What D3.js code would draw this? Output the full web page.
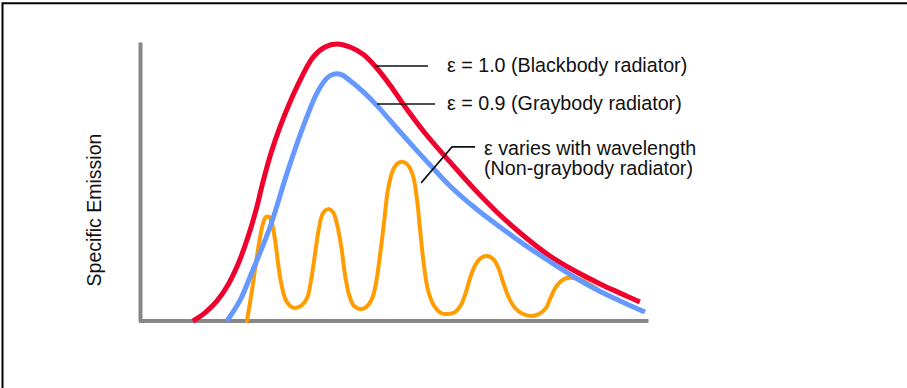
<!DOCTYPE html>
<html>
<head>
<meta charset="utf-8">
<script src="https://cdn.jsdelivr.net/npm/d3@7"></script>
<style>
  html, body { margin: 0; padding: 0; background: #fff; }
  svg { display: block; }
  text { font-family: "Liberation Sans", Arial, Helvetica, sans-serif; fill: #111; }
</style>
</head>
<body>
<svg id="chart" width="907" height="388"></svg>
<script>
// ---- data (wavelength in arbitrary units, emission normalised 0..1) ----
const blackbodyWavelength = [2.05, 2.52, 3.00, 3.43, 3.83, 4.22, 4.54, 4.81, 5.13, 5.48, 6.15, 6.79, 7.26, 7.73, 8.24, 8.76, 9.23, 9.82, 10.34, 11.20, 12.19, 13.18, 14.16, 15.15, 16.13, 17.12, 18.11, 18.90, 19.68];
const blackbodyEmission   = [0.000, 0.029, 0.072, 0.129, 0.204, 0.301, 0.398, 0.498, 0.602, 0.695, 0.839, 0.946, 0.982, 0.993, 0.982, 0.956, 0.914, 0.846, 0.778, 0.674, 0.570, 0.470, 0.380, 0.301, 0.233, 0.179, 0.133, 0.100, 0.068];

const graybodyWavelength = [3.39, 3.91, 4.30, 5.09, 5.76, 6.39, 6.94, 7.34, 7.61, 7.93, 8.24, 8.76, 9.31, 10.10, 10.81, 11.52, 12.19, 13.18, 14.16, 15.15, 16.13, 17.12, 18.11, 18.90, 19.88];
const graybodyEmission   = [0.000, 0.075, 0.158, 0.337, 0.530, 0.695, 0.817, 0.871, 0.885, 0.882, 0.862, 0.822, 0.772, 0.690, 0.618, 0.548, 0.484, 0.405, 0.337, 0.272, 0.213, 0.156, 0.106, 0.072, 0.032];

const nongrayWavelength = [4.18, 4.38, 4.54, 4.69, 4.81, 4.93, 5.05, 5.17, 5.29, 5.40,
  5.52, 5.68, 5.88, 6.07, 6.31, 6.55, 6.71, 6.86, 7.02, 7.18,
  7.38, 7.57, 7.73, 7.89, 8.05, 8.21, 8.40, 8.64, 8.88, 9.11,
  9.27, 9.43, 9.59, 9.74, 9.94, 10.14, 10.34, 10.53, 10.73, 10.89,
  11.01, 11.16, 11.32, 11.56, 11.83, 12.11, 12.39, 12.62, 12.82, 13.02,
  13.21, 13.41, 13.65, 13.89, 14.08, 14.28, 14.48, 14.75, 15.07, 15.38,
  15.70, 15.98, 16.17, 16.37, 16.57, 16.80, 17.08, 17.36, 17.67, 17.99];
const nongrayEmission = [0.000, 0.111, 0.211, 0.297, 0.348, 0.373, 0.373, 0.348, 0.290, 0.211,
  0.140, 0.082, 0.054, 0.047, 0.054, 0.082, 0.147, 0.237, 0.333, 0.387,
  0.401, 0.391, 0.348, 0.272, 0.165, 0.093, 0.054, 0.043, 0.050, 0.079,
  0.136, 0.237, 0.355, 0.470, 0.541, 0.566, 0.570, 0.559, 0.520, 0.434,
  0.326, 0.201, 0.111, 0.054, 0.029, 0.025, 0.032, 0.057, 0.104, 0.165,
  0.204, 0.226, 0.233, 0.222, 0.194, 0.140, 0.090, 0.047, 0.025, 0.018,
  0.025, 0.047, 0.086, 0.122, 0.143, 0.154, 0.154, 0.147, 0.133, 0.115];

const seriesLabels = ["ε = 1.0 (Blackbody radiator)", "ε = 0.9 (Graybody radiator)", "ε varies with wavelength", "(Non-graybody radiator)"];
const yAxisTitle = "Specific Emission";

// annotation anchors (data units)
const leaderBlackbody = [[9.23, 0.914], [11.32, 0.914]];
const leaderGraybody  = [[9.31, 0.778], [11.60, 0.778]];
const leaderNongray   = [[11.05, 0.495], [12.27, 0.624], [13.18, 0.624]];
const labelX = [12.07, 12.07, 13.53];

// ---- drawing ----
const svg = d3.select("#chart");

// frame (top + left border)
svg.append("path")
  .attr("d", "M2.5,388V3.2H907")
  .attr("fill", "none").attr("stroke", "#000").attr("stroke-width", 2);

const x = d3.scaleLinear().domain([0, 20]).range([141, 648]);
const y = d3.scaleLinear().domain([0, 1]).range([321, 42]);

const line = d3.line().x(d => x(d[0])).y(d => y(d[1])).curve(d3.curveCatmullRom.alpha(0.5));
const zip = (a, b) => a.map((v, i) => [v, b[i]]);

// axes (no ticks)
const gx = svg.append("g").attr("transform", "translate(0,320.5)")
  .call(d3.axisBottom(x.copy().range([138.5, 648])).tickValues([]).tickSizeOuter(0));
const gy = svg.append("g").attr("transform", "translate(140,0)")
  .call(d3.axisLeft(y).tickValues([]).tickSizeOuter(0));
[gx, gy].forEach(g => g.select(".domain").attr("stroke", "#878787").attr("stroke-width", 4));

// curves
svg.append("path").datum(zip(nongrayWavelength, nongrayEmission))
  .attr("d", line).attr("fill", "none").attr("stroke", "#ff9d00")
  .attr("stroke-width", 4).attr("stroke-linecap", "round").attr("stroke-linejoin", "round");
svg.append("path").datum(zip(blackbodyWavelength, blackbodyEmission))
  .attr("d", line).attr("fill", "none").attr("stroke", "#f0002d")
  .attr("stroke-width", 5).attr("stroke-linecap", "butt");
svg.append("path").datum(zip(graybodyWavelength, graybodyEmission))
  .attr("d", line).attr("fill", "none").attr("stroke", "#6699ff")
  .attr("stroke-width", 5).attr("stroke-linecap", "butt");

// leader lines
const straight = d3.line().x(d => x(d[0])).y(d => y(d[1]));
[leaderBlackbody, leaderGraybody, leaderNongray].forEach(pts => {
  svg.append("path").attr("d", straight(pts)).attr("fill", "none")
    .attr("stroke", "#111").attr("stroke-width", 1.6);
});

// labels
const fs = 19.7;
svg.append("text").attr("x", x(labelX[0])).attr("y", y(leaderBlackbody[0][1])).attr("dy", 6)
  .attr("font-size", fs).text(seriesLabels[0]);
svg.append("text").attr("x", x(labelX[1])).attr("y", y(leaderGraybody[0][1])).attr("dy", 6)
  .attr("font-size", fs).text(seriesLabels[1]);
svg.append("text").attr("x", x(labelX[2])).attr("y", y(leaderNongray[2][1])).attr("dy", 8)
  .attr("font-size", fs).text(seriesLabels[2]);
svg.append("text").attr("x", x(labelX[2])).attr("y", y(leaderNongray[2][1])).attr("dy", 28)
  .attr("font-size", fs).text(seriesLabels[3]);

// y axis title
svg.append("text")
  .attr("transform", "translate(101,210) rotate(-90)")
  .attr("text-anchor", "middle").attr("font-size", 19.5)
  .text(yAxisTitle);
</script>
</body>
</html>
